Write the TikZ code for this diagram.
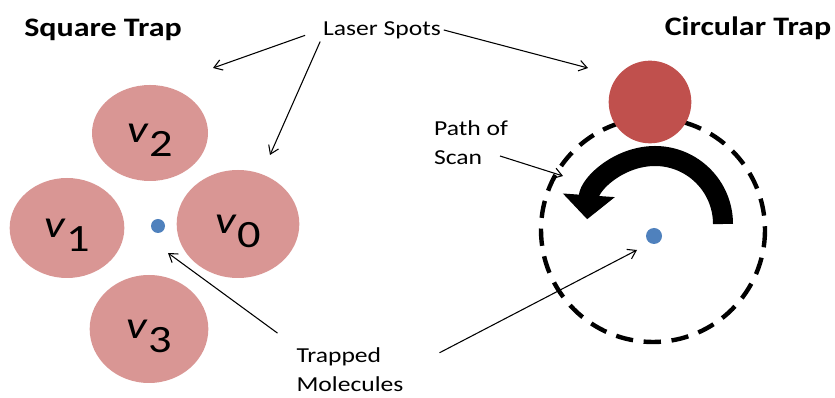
\documentclass[tikz,border=0pt]{standalone}
\usepackage{fontspec}
\setmainfont{Carlito}[FakeStretch=1.2]
\usepackage{tikz}
\usetikzlibrary{
    shapes.geometric,
    arrows.meta
}
\definecolor{spotpink}{RGB}{217,150,148}
\definecolor{spotred}{RGB}{192,80,77}
\definecolor{molblue}{RGB}{79,129,189}
\newcommand{\vsub}[1]{\textit{v}\smash{\raisebox{-11pt}{#1}}}

\begin{document}
\begin{tikzpicture}[x=0.75pt,y=-0.75pt,
    spot/.style={ellipse, fill=spotpink, inner sep=0pt, font=\fontsize{29}{30}\selectfont},
    molecule/.style={circle, fill=molblue, inner sep=0pt},
    heading/.style={font=\fontsize{20}{24}\selectfont\bfseries},
    note/.style={font=\fontsize{16}{22}\selectfont, align=left, inner sep=2pt},
    pointer/.style={-{Straight Barb[length=6pt,width=8pt]}, line width=0.8pt}
]
\useasboundingbox (0,0) rectangle (835,398);

\node[heading] (sqtitle) at (103,30) {Square Trap};
\node[heading] (circtitle) at (748,28) {Circular Trap};
%%
\node[spot, minimum width=87pt, minimum height=72pt] (v2) at (150,133) {\vsub{2}};
\node[spot, minimum width=86pt, minimum height=75pt] (v1) at (67,228) {\vsub{1}};
\node[spot, minimum width=92pt, minimum height=81pt] (v0) at (238,224) {\vsub{0}};
\node[spot, minimum width=89pt, minimum height=81pt] (v3) at (149,329) {\vsub{3}};
\node[molecule, minimum size=10.5pt] (molL) at (158,226) {};
%%
\draw[line width=3.3pt, dash pattern=on 13pt off 8pt] (653,230) circle (112);
\node[circle, fill=spotred, inner sep=0pt, minimum size=62pt] (redspot) at (650,102) {};
\draw[line width=15pt, -{Triangle[length=18pt,width=38pt]}] (723,224) arc[start angle=0, end angle=-176, radius=68];
\node[molecule, minimum size=12pt] (molR) at (654,236) {};
%%
\node[note] (laser) at (382,30) {Laser Spots};
\node[note] (scan) at (471,143) {Path of\\Scan};
\node[note] (trapped) at (350,370) {Trapped\\Molecules};

\coordinate (laserA) at (213,68);
\coordinate (laserB) at (270,155);
\coordinate (laserC) at (588,68);
\coordinate (scantail) at (500,156);
\coordinate (scanhead) at (563,176);
\coordinate (molA) at (168,253);
\coordinate (molB) at (637,250);

\draw[pointer, shorten <=12pt] (laser.west) -- (laserA);
\draw[pointer] (laser.south west) -- (laserB);
\draw[pointer] (laser.east) -- (laserC);
\draw[pointer] (scantail) -- (scanhead);
\draw[pointer, shorten <=15pt] (trapped.north west) -- (molA);
\draw[pointer, shorten <=28pt] (trapped.east) -- (molB);
\end{tikzpicture}
\end{document}
